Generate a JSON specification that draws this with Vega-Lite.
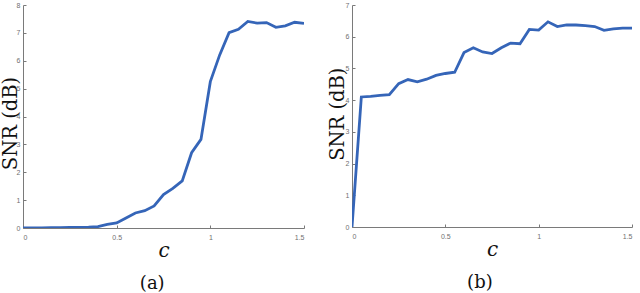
{
  "$schema": "https://vega.github.io/schema/vega-lite/v6.json",
  "padding": {"left": 0, "top": 1, "right": 5, "bottom": 0},
  "spacing": 22,
  "background": "white",
  "config": {
    "view": {"stroke": null},
    "axis": {
      "grid": false,
      "domainColor": "#7a7a7a",
      "tickColor": "#7a7a7a",
      "labelColor": "#707070",
      "labelFont": "Liberation Sans",
      "labelFontSize": 7,
      "tickSize": -3,
      "format": "~g",
      "titleFont": "DejaVu Serif",
      "titleFontWeight": "normal",
      "titleColor": "#111"
    },
    "axisX": {"labelPadding": 8, "titleFontSize": 20, "titleFontStyle": "italic", "titlePadding": 0},
    "axisY": {"labelPadding": 6, "titleFontSize": 19.5, "titleAngle": -90, "titleBaseline": "bottom", "titleAlign": "center"},
    "title": {"font": "DejaVu Serif", "fontSize": 18, "fontWeight": "normal", "color": "#111", "orient": "bottom", "offset": 15, "frame": "bounds", "anchor": "middle"}
  },
  "datasets": {
    "a": [
      {"c": 0, "snr": 0}, {"c": 0.05, "snr": 0}, {"c": 0.1, "snr": 0}, {"c": 0.15, "snr": 0.01},
      {"c": 0.2, "snr": 0.01}, {"c": 0.25, "snr": 0.02}, {"c": 0.3, "snr": 0.02}, {"c": 0.35, "snr": 0.03},
      {"c": 0.4, "snr": 0.05}, {"c": 0.45, "snr": 0.13}, {"c": 0.5, "snr": 0.18}, {"c": 0.55, "snr": 0.36},
      {"c": 0.6, "snr": 0.54}, {"c": 0.65, "snr": 0.62}, {"c": 0.7, "snr": 0.79}, {"c": 0.75, "snr": 1.2},
      {"c": 0.8, "snr": 1.42}, {"c": 0.85, "snr": 1.69}, {"c": 0.9, "snr": 2.7}, {"c": 0.95, "snr": 3.18},
      {"c": 1.0, "snr": 5.25}, {"c": 1.05, "snr": 6.21}, {"c": 1.1, "snr": 7.01}, {"c": 1.15, "snr": 7.13},
      {"c": 1.2, "snr": 7.41}, {"c": 1.25, "snr": 7.35}, {"c": 1.3, "snr": 7.37}, {"c": 1.35, "snr": 7.2},
      {"c": 1.4, "snr": 7.25}, {"c": 1.45, "snr": 7.38}, {"c": 1.5, "snr": 7.34}
    ],
    "b": [
      {"c": 0, "snr": 0}, {"c": 0.05, "snr": 4.1}, {"c": 0.1, "snr": 4.12}, {"c": 0.15, "snr": 4.15},
      {"c": 0.2, "snr": 4.17}, {"c": 0.25, "snr": 4.52}, {"c": 0.3, "snr": 4.65}, {"c": 0.35, "snr": 4.58},
      {"c": 0.4, "snr": 4.66}, {"c": 0.45, "snr": 4.78}, {"c": 0.5, "snr": 4.84}, {"c": 0.55, "snr": 4.88},
      {"c": 0.6, "snr": 5.5}, {"c": 0.65, "snr": 5.65}, {"c": 0.7, "snr": 5.52}, {"c": 0.75, "snr": 5.47},
      {"c": 0.8, "snr": 5.65}, {"c": 0.85, "snr": 5.8}, {"c": 0.9, "snr": 5.78}, {"c": 0.95, "snr": 6.23},
      {"c": 1.0, "snr": 6.21}, {"c": 1.05, "snr": 6.47}, {"c": 1.1, "snr": 6.32}, {"c": 1.15, "snr": 6.37},
      {"c": 1.2, "snr": 6.37}, {"c": 1.25, "snr": 6.35}, {"c": 1.3, "snr": 6.32}, {"c": 1.35, "snr": 6.2},
      {"c": 1.4, "snr": 6.25}, {"c": 1.45, "snr": 6.27}, {"c": 1.5, "snr": 6.27}
    ]
  },
  "hconcat": [
    {
      "width": 281,
      "height": 223,
      "title": "(a)",
      "data": {"name": "a"},
      "mark": {"type": "line", "color": "#3565b8", "strokeWidth": 2.8, "clip": true},
      "encoding": {
        "x": {"field": "c", "type": "quantitative", "scale": {"domain": [0, 1.5], "nice": false},
          "axis": {"values": [0, 0.5, 1, 1.5], "title": "c"}},
        "y": {"field": "snr", "type": "quantitative", "scale": {"domain": [0, 8], "nice": false},
          "axis": {"values": [0, 1, 2, 3, 4, 5, 6, 7, 8], "title": "SNR (dB)", "titleX": -3, "titleY": 118}}
      }
    },
    {
      "width": 280,
      "height": 222,
      "title": "(b)",
      "data": {"name": "b"},
      "mark": {"type": "line", "color": "#3565b8", "strokeWidth": 2.8, "clip": true},
      "encoding": {
        "x": {"field": "c", "type": "quantitative", "scale": {"domain": [0, 1.5], "nice": false},
          "axis": {"values": [0, 0.5, 1, 1.5], "title": "c"}},
        "y": {"field": "snr", "type": "quantitative", "scale": {"domain": [0, 7], "nice": false},
          "axis": {"values": [0, 1, 2, 3, 4, 5, 6, 7], "title": "SNR (dB)", "titleX": -4.7, "titleY": 108.7}}
      }
    }
  ]
}
